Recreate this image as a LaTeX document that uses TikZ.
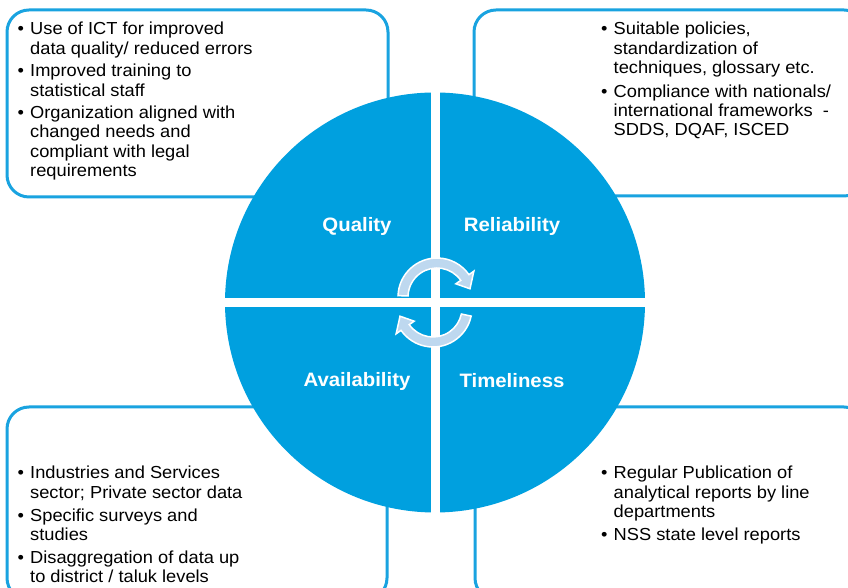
\documentclass[tikz,border=0pt]{standalone}
\usepackage{fontspec}
\setmainfont{Liberation Sans}[FakeStretch=1.05]
\definecolor{circblue}{RGB}{0,160,223}
\definecolor{boxblue}{RGB}{25,163,224}
\definecolor{arrowfill}{RGB}{190,216,239}
\newcommand{\bl}{\makebox[12.5pt][l]{•}}
\tikzset{
  framebox/.style={draw=boxblue, line width=3pt, rounded corners=22pt},
  textbox/.style={anchor=base west, inner sep=0pt,
    font=\fontsize{17.4}{19.2}\selectfont},
  lab/.style={text=white, inner sep=0pt, font=\fontsize{19.4}{22}\selectfont\bfseries},
  cyclearrow/.style={fill=arrowfill, draw=white, line width=1.5pt, line join=miter},
}
\begin{document}
\begin{tikzpicture}[x=1pt,y=1pt]
\useasboundingbox (0,0) rectangle (848,588);
\fill[white] (0,0) rectangle (848,588);
% frames
\draw[framebox] (7,391) rectangle (388,578);
\draw[framebox] (474,392) rectangle (866,578);
\draw[framebox] (7,-12) rectangle (387,181);
\draw[framebox] (475,-12) rectangle (866,181);
% circle
\coordinate (C) at (435,285.5);
\fill[circblue] (C) circle[radius=210pt];
\begin{scope}
  \clip (C) circle[radius=211pt];
  \fill[white] (430.5,0) rectangle (439.5,588);
  \fill[white] (0,281) rectangle (848,290);
\end{scope}
% cycle arrows
\begin{scope}[shift={(437,291)}]
  \path[cyclearrow] (178:39pt) arc[start angle=178, end angle=35, radius=39pt]
    -- (35:45pt) -- (14:34pt) -- (35:23pt) -- (35:29pt)
    arc[start angle=35, end angle=178, radius=29pt] -- cycle;
\end{scope}
\begin{scope}[shift={(433,280)}]
  \path[cyclearrow] (-12:39pt) arc[start angle=-12, end angle=-145, radius=39pt]
    -- (-145:45pt) -- (-166:34pt) -- (-145:23pt) -- (-145:29pt)
    arc[start angle=-145, end angle=-12, radius=29pt] -- cycle;
\end{scope}
% labels
\node[lab] (q) at (357,362) {Quality};
\node[lab] (r) at (512,362) {Reliability};
\node[lab] (a) at (357,207) {Availability};
\node[lab] (t) at (512,207) {Timeliness};
% texts
\node[textbox] (tltext) at (17.5,553) {\begin{tabular}[t]{@{}l@{}l@{}}
\bl & Use of ICT for improved\\
    & data quality/ reduced errors\\[3.5pt]
\bl & Improved training to\\
    & statistical staff\\[3.5pt]
\bl & Organization aligned with\\
    & changed needs and\\
    & compliant with legal\\
    & requirements
\end{tabular}};
\node[textbox] (trtext) at (601,553) {\begin{tabular}[t]{@{}l@{}l@{}}
\bl & Suitable policies,\\
    & standardization of\\
    & techniques, glossary etc.\\[5pt]
\bl & Compliance with nationals/\\
    & international frameworks~~-\\
    & SDDS, DQAF, ISCED
\end{tabular}};
\node[textbox] (bltext) at (17.5,109) {\begin{tabular}[t]{@{}l@{}l@{}}
\bl & Industries and Services\\
    & sector; Private sector data\\[4pt]
\bl & Specific surveys and\\
    & studies\\[4pt]
\bl & Disaggregation of data up\\
    & to district / taluk levels
\end{tabular}};
\node[textbox] (brtext) at (601,109) {\begin{tabular}[t]{@{}l@{}l@{}}
\bl & Regular Publication of\\
    & analytical reports by line\\
    & departments\\[4pt]
\bl & NSS state level reports
\end{tabular}};
\end{tikzpicture}
\end{document}
